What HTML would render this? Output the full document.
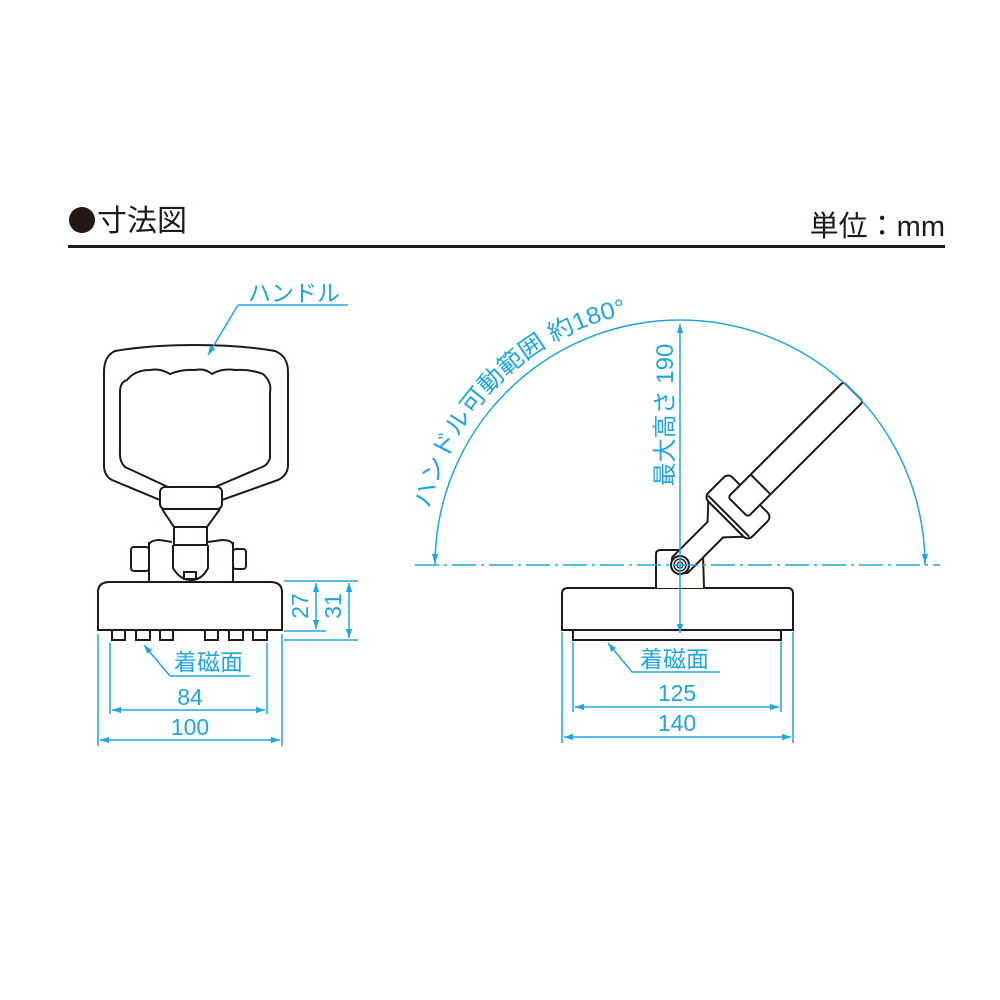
<!DOCTYPE html>
<html><head><meta charset="utf-8"><style>
html,body{margin:0;padding:0;background:#fff;}
svg{display:block;}
text{font-family:"Liberation Sans","Noto Sans CJK JP",sans-serif;}
</style></head><body>
<svg width="1000" height="1000" viewBox="0 0 1000 1000" xmlns="http://www.w3.org/2000/svg">
<defs>
<marker id="a" viewBox="0 0 10 10" refX="10" refY="5" markerWidth="9" markerHeight="9" orient="auto-start-reverse" markerUnits="userSpaceOnUse"><path d="M0,1.5 L10,5 L0,8.5 Z" fill="#1ea6e0"/></marker>
<path id="arcp" d="M430,509 A256,256 0 0,1 642,312"/>
</defs>
<!-- header -->
<circle cx="82" cy="220" r="13" fill="#231815"/>
<text x="97" y="231" font-size="30" fill="#231815">寸法図</text>
<text x="945" y="236" font-size="29" fill="#231815" text-anchor="end">単位：mm</text>
<rect x="68" y="245" width="877" height="3" fill="#231815"/>

<g fill="none" stroke="#231815" stroke-width="2">
<!-- left handle -->
<path d="M115,351 Q150,345 195,345 Q240,345 275,351 Q288,356 288,372 L288,465 Q288,475 278,480 L222,500 L160,500 L112,480 Q104,476 104,465 L104,372 Q104,356 115,351 Z"/>
<path d="M127,380 Q135,370 150,370 Q160,368 170,374 Q182,369 195,370 Q205,368 212,374 Q222,368 235,370 Q250,369 263,374 Q272,382 270,392 L270,458 Q268,465 262,467 L215,487 L168,487 L125,467 Q120,462 120,455 L120,392 Q120,382 127,380 Z"/>
<rect x="160" y="487" width="62" height="22" rx="5" fill="#fff"/>
<path d="M162,509 L174,527 L207,527 L220,509"/>
<path d="M174,527 L174,545 L207,545 L207,527"/>
<path d="M149,542 L149,583 M233,542 L233,583"/>
<path d="M149,545 Q150,540 160,540 L172,542 M233,545 Q232,540 222,540 L208,542"/>
<path d="M173,545 L173,568 Q180,580 191,580 Q202,580 208,568 L208,545"/>
<rect x="184" y="572" width="12" height="7"/>
<rect x="131" y="547" width="18" height="24" rx="3"/>
<rect x="233" y="549" width="13" height="20" rx="3"/>
<path d="M98,630 L98,592 Q98,582 110,582 L270,582 Q282,582 282,592 L282,630 Z" fill="#fff"/>
<rect x="112" y="630" width="13" height="10"/><rect x="136" y="630" width="14" height="10"/><rect x="160" y="630" width="13" height="10"/>
<rect x="205" y="630" width="13" height="10"/><rect x="229" y="630" width="14" height="10"/><rect x="253" y="630" width="14" height="10"/>

<!-- right base -->
<rect x="573" y="630" width="208" height="10"/>
<path d="M562,630 L562,594 Q562,588 568,588 L788,588 Q793,588 793,594 L793,630 Z" fill="#fff"/>
<path d="M656,588 L656,554 Q656,550 661,550 L699,550 Q703,550 703,554 L704,588" fill="#fff"/>
<g transform="rotate(-45 680 565)">
<path d="M680,554 L730,554 L745,540 L745,590 L730,576 L680,576"  fill="#fff"/>
<path d="M680,554 Q676,556 676,565 Q676,574 680,576"/>
<rect x="745" y="534" width="34" height="62" rx="6" fill="#fff"/>
<path d="M749,536 L749,594"/>
<rect x="762" y="551" width="163" height="28" rx="3" fill="#fff"/>
<path d="M794,551 L794,579"/>
</g>
<circle cx="680" cy="565" r="9" fill="#fff"/><circle cx="680" cy="565" r="6" stroke-width="1.4"/><circle cx="680" cy="565" r="3" stroke-width="1.2"/>
</g>

<!-- blue dims -->
<g stroke="#1ea6e0" stroke-width="1.5" fill="none">
<path d="M238,305 L348,305 M238,305 L208,355" marker-end="url(#a)"/>
<path d="M284,581 L358,581 M284,631 L326,631 M284,640 L358,640"/>
<path d="M316,583 L316,629" marker-start="url(#a)" marker-end="url(#a)"/>
<path d="M349,583 L349,638" marker-start="url(#a)" marker-end="url(#a)"/>
<path d="M110,643 L110,714 M267,643 L267,714 M98,634 L98,746 M282,634 L282,746"/>
<path d="M112,710 L265,710" marker-start="url(#a)" marker-end="url(#a)"/>
<path d="M100,740 L280,740" marker-start="url(#a)" marker-end="url(#a)"/>
<path d="M250,676 L170,676 L144,645" marker-end="url(#a)"/>
<path d="M415,565 L940,565" stroke-dasharray="24,5,3,5"/>
<path d="M435,565 A245,245 0 0,1 925,565" />
<path d="M435,555 L435,563" marker-end="url(#a)"/>
<path d="M925,555 L925,563" marker-end="url(#a)"/>
<path d="M680,324 L680,633" marker-start="url(#a)" marker-end="url(#a)"/>
<path d="M573,642 L573,712 M781,642 L781,712 M562,632 L562,743 M793,632 L793,743"/>
<path d="M575,707 L779,707" marker-start="url(#a)" marker-end="url(#a)"/>
<path d="M564,737 L791,737" marker-start="url(#a)" marker-end="url(#a)"/>
<path d="M720,672 L632,672 L608,643" marker-end="url(#a)"/>
</g>
<g fill="#1ea6e0" font-size="23">
<text x="248" y="301">ハンドル</text>
<text x="174" y="670">着磁面</text>
<text x="190" y="705" text-anchor="middle">84</text>
<text x="190" y="735" text-anchor="middle">100</text>
<text transform="translate(308,606) rotate(-90)" text-anchor="middle">27</text>
<text transform="translate(341,606) rotate(-90)" text-anchor="middle">31</text>
<text x="640" y="667">着磁面</text>
<text x="677" y="701" text-anchor="middle">125</text>
<text x="677" y="731" text-anchor="middle">140</text>
<text transform="translate(673,415) rotate(-90)" text-anchor="middle" font-size="24">最大高さ 190</text>
<text font-size="24"><textPath href="#arcp" textLength="292" lengthAdjust="spacingAndGlyphs">ハンドル可動範囲 約180°</textPath></text>
</g>
</svg>
</body></html>
